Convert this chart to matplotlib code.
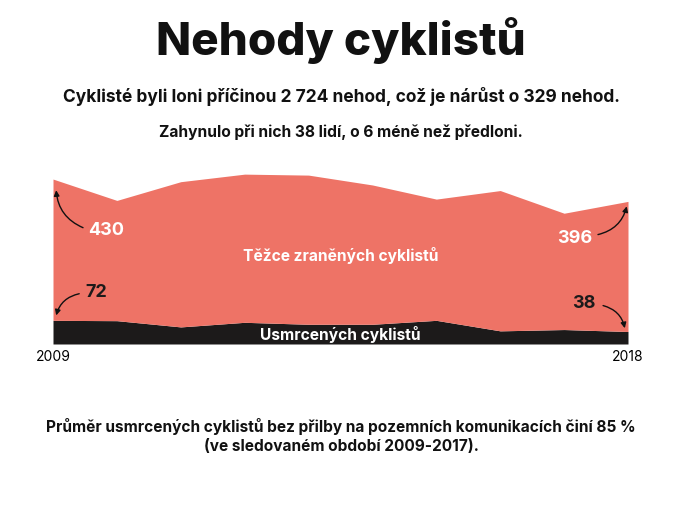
import matplotlib.pyplot as plt
import numpy as np

years = [2009, 2010, 2011, 2012, 2013, 2014, 2015, 2016, 2017, 2018]
usmrceni = [72, 71, 52, 66, 60, 60, 72, 40, 44, 38]
tezce_zraneni = [430, 366, 442, 451, 454, 424, 369, 427, 354, 396]

salmon = '#ee7366'
black = '#1c1a1a'
font = 'Inter'

fig = plt.figure(figsize=(6.82, 5.12), dpi=100)
ax = fig.add_axes([53 / 682, 168 / 512, 575 / 682, 184 / 512])

x = np.array(years)
d = np.array(usmrceni)
z = np.array(tezce_zraneni)
ax.fill_between(x, 0, d, color=black, lw=0)
ax.fill_between(x, d, d + z, color=salmon, lw=0)

ax.set_xlim(2009, 2018)
ax.set_ylim(0, 560)
for s in ax.spines.values():
    s.set_visible(False)
ax.set_yticks([])
ax.set_xticks([years[0], years[-1]])
ax.set_xticklabels([str(years[0]), str(years[-1])], fontsize=10, family=font)
ax.tick_params(axis='x', length=0, pad=4)

# labels inside areas
ax.text(2013.5, 270, 'Těžce zraněných cyklistů', color='white', fontsize=11.2,
        fontweight='bold', family=font, ha='center', va='center')
ax.text(2013.5, 28, 'Usmrcených cyklistů', color='white', fontsize=11.2,
        fontweight='bold', family=font, ha='center', va='center')

# end values
num = dict(fontsize=13, fontweight='bold', family=font, ha='left', va='center')
ax.text(2009.55, 345, str(tezce_zraneni[0]), color='white', **num)
ax.text(2009.50, 156, str(usmrceni[0]), color=black, **num)
ax.text(2016.89, 321, str(tezce_zraneni[-1]), color='white', **num)
ax.text(2017.12, 123, str(usmrceni[-1]), color=black, **num)

# arrows
arr = dict(arrowstyle='-|>', color='#111111', lw=1, mutation_scale=8,
           shrinkA=0, shrinkB=0)
ax.annotate('', xy=(2009.05, d[0] + z[0] - 34), xytext=(2009.47, 354),
            arrowprops=dict(arr, connectionstyle='arc3,rad=-0.3'))
ax.annotate('', xy=(2009.05, d[0] + 15), xytext=(2009.41, 153),
            arrowprops=dict(arr, connectionstyle='arc3,rad=0.3'))
ax.annotate('', xy=(2017.98, d[-1] + z[-1] - 15), xytext=(2017.53, 333),
            arrowprops=dict(arr, connectionstyle='arc3,rad=0.3'))
ax.annotate('', xy=(2017.95, d[-1] + 10), xytext=(2017.61, 117),
            arrowprops=dict(arr, connectionstyle='arc3,rad=-0.3'))

# titles
fig.text(0.5, 1 - 40 / 512, 'Nehody cyklistů', ha='center', va='center',
         fontsize=33, fontweight='heavy', family=font, color='#111111')
fig.text(0.5, 1 - 97 / 512,
         'Cyklisté byli loni příčinou 2 724 nehod, což je nárůst o 329 nehod.',
         ha='center', va='center', fontsize=12.5, fontweight='bold', family=font,
         color='#111111')
fig.text(0.5, 1 - 132 / 512, 'Zahynulo při nich 38 lidí, o 6 méně než předloni.',
         ha='center', va='center', fontsize=11.2, fontweight='bold', family=font,
         color='#111111')
fig.text(0.5, 1 - 436 / 512,
         'Průměr usmrcených cyklistů bez přilby na pozemních komunikacích činí 85 %\n'
         '(ve sledovaném období 2009-2017).',
         ha='center', va='center', fontsize=11.1, fontweight='bold', family=font,
         color='#111111', linespacing=1.3)

fig.savefig('out.png', dpi=100)
